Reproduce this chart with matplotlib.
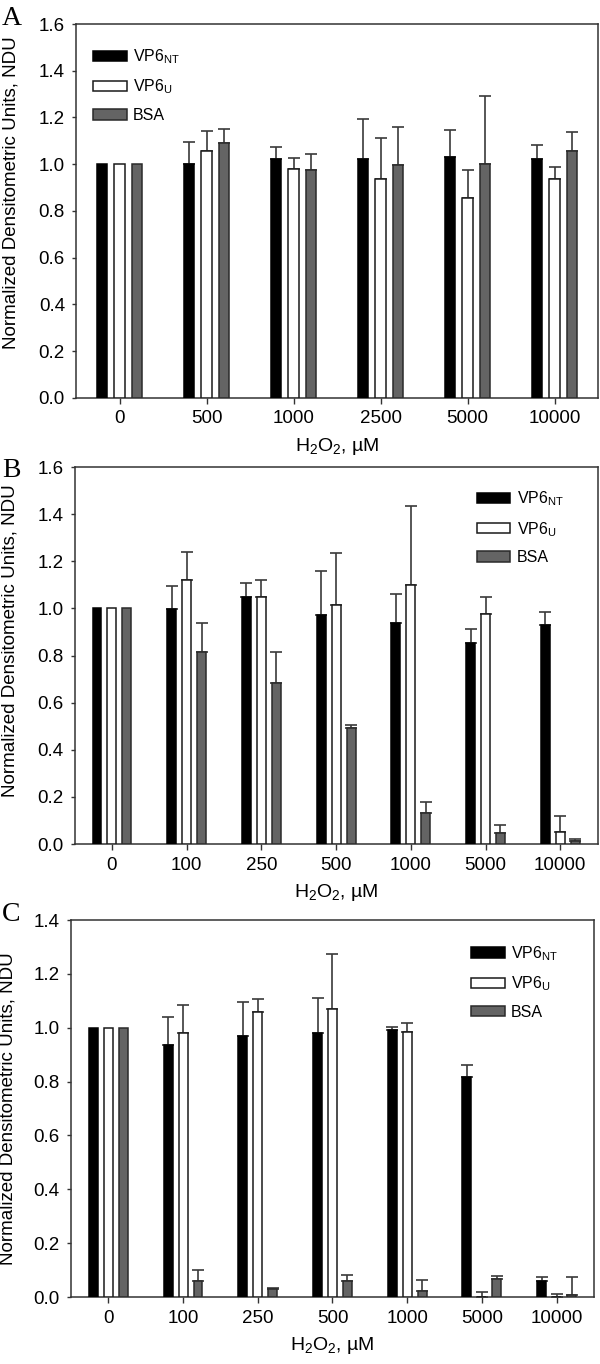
import numpy as np
import matplotlib
matplotlib.use('Agg')
import matplotlib.pyplot as plt

plt.rcParams['font.family'] = ['Liberation Sans', 'DejaVu Sans']
plt.rcParams['mathtext.fontset'] = 'custom'
plt.rcParams['mathtext.rm'] = 'Liberation Sans'
plt.rcParams['mathtext.it'] = 'Liberation Sans:italic'
plt.rcParams['mathtext.bf'] = 'Liberation Sans:bold'

# Panel A data
a_doses = ['0', '500', '1000', '2500', '5000', '10000']
a_nt = [1.00, 1.00, 1.02, 1.02, 1.03, 1.024]
a_nt_err = [0, 0.095, 0.055, 0.174, 0.117, 0.057]
a_u = [1.00, 1.056, 0.980, 0.937, 0.856, 0.937]
a_u_err = [0, 0.086, 0.048, 0.173, 0.121, 0.049]
a_bsa = [1.00, 1.091, 0.977, 0.996, 1.00, 1.058]
a_bsa_err = [0, 0.060, 0.067, 0.161, 0.291, 0.080]

# Panel B data
b_doses = ['0', '100', '250', '500', '1000', '5000', '10000']
b_nt = [1.00, 0.997, 1.048, 0.973, 0.936, 0.855, 0.930]
b_nt_err = [0, 0.098, 0.061, 0.187, 0.125, 0.056, 0.056]
b_u = [1.00, 1.122, 1.048, 1.014, 1.099, 0.977, 0.052]
b_u_err = [0, 0.119, 0.071, 0.223, 0.336, 0.070, 0.066]
b_bsa = [1.00, 0.817, 0.685, 0.491, 0.132, 0.047, 0.013]
b_bsa_err = [0, 0.122, 0.131, 0.014, 0.048, 0.032, 0.010]

# Panel C data
c_doses = ['0', '100', '250', '500', '1000', '5000', '10000']
c_nt = [1.00, 0.936, 0.968, 0.980, 0.991, 0.817, 0.061]
c_nt_err = [0, 0.105, 0.126, 0.130, 0.013, 0.043, 0.012]
c_u = [1.00, 0.980, 1.058, 1.069, 0.984, 0.0, 0.0]
c_u_err = [0, 0.106, 0.047, 0.204, 0.032, 0.020, 0.012]
c_bsa = [1.00, 0.061, 0.031, 0.061, 0.024, 0.068, 0.007]
c_bsa_err = [0, 0.040, 0.003, 0.021, 0.040, 0.010, 0.066]

labels = ['VP6$_{\\mathrm{NT}}$', 'VP6$_{\\mathrm{U}}$', 'BSA']
faces = ['black', 'white', '#646464']
edges = ['black', '#1a1a1a', '#2a2a2a']
spine_col = '#333333'
err_col = '#3a3a3a'

fig = plt.figure(figsize=(6, 13.64), dpi=100)

panels = [
    # rect, doses, series, ymax, legend anchor, ylabel coords, letter
    ([0.1267, 0.7084, 0.870, 0.274], a_doses,
     [(a_nt, a_nt_err), (a_u, a_u_err), (a_bsa, a_bsa_err)],
     1.6, (0.033, 0.937), (-0.108, 0.55), 'A', 25),
    ([0.1243, 0.3812, 0.8717, 0.2764], b_doses,
     [(b_nt, b_nt_err), (b_u, b_u_err), (b_bsa, b_bsa_err)],
     1.6, (0.769, 0.94), (-0.108, 0.54), 'B', 477),
    ([0.1183, 0.0491, 0.8717, 0.2764], c_doses,
     [(c_nt, c_nt_err), (c_u, c_u_err), (c_bsa, c_bsa_err)],
     1.4, (0.765, 0.936), (-0.105, 0.50), 'C', 921),
]

width = 0.12
offset = 0.2

for rect, doses, series, ymax, leg_xy, ylab_xy, letter, letter_y in panels:
    ax = fig.add_axes(rect)
    x = np.arange(len(doses))
    handles = []
    for i, (vals, errs) in enumerate(series):
        xs = x + (i - 1) * offset
        vals = np.array(vals)
        errs = np.array(errs)
        bars = ax.bar(xs, vals, width, color=faces[i], edgecolor=edges[i],
                      linewidth=1.1, zorder=3, label=labels[i])
        handles.append(bars)
        m = errs > 0
        ax.errorbar(xs[m], vals[m], yerr=[np.zeros(m.sum()), errs[m]], fmt='none',
                    ecolor=err_col, elinewidth=1.2, capsize=4, capthick=1.2, zorder=2)

    ax.set_xlim(-0.5, len(doses) - 0.5)
    ax.set_ylim(0, ymax)
    ticks = np.arange(0, ymax + 0.01, 0.2)
    ax.set_yticks(ticks)
    ax.set_yticklabels([f'{v:.1f}' for v in ticks])
    ax.set_xticks(x)
    ax.set_xticklabels(doses)
    ax.tick_params(axis='x', direction='out', length=4, width=1, color=spine_col,
                   pad=5, labelsize=13.5)
    ax.tick_params(axis='y', direction='out', length=3, width=1, color=spine_col,
                   pad=5, labelsize=13.5)
    for s in ax.spines.values():
        s.set_color(spine_col)
        s.set_linewidth(1.1)

    ax.set_ylabel('Normalized Densitometric Units, NDU', fontsize=13.5)
    ax.yaxis.set_label_coords(*ylab_xy)
    ax.set_xlabel('H$_2$O$_2$, µM', fontsize=14, labelpad=6)

    ax.legend(handles=handles, loc='upper left', bbox_to_anchor=leg_xy,
              frameon=False, fontsize=11.5, borderpad=0, borderaxespad=0,
              handlelength=2.1, handleheight=0.62, handletextpad=0.4,
              labelspacing=0.72)

    fig.text(0.003, 1 - letter_y / 1364, letter, family='Liberation Serif',
             fontsize=20, va='baseline', ha='left')

fig.savefig('out.png', dpi=100)
